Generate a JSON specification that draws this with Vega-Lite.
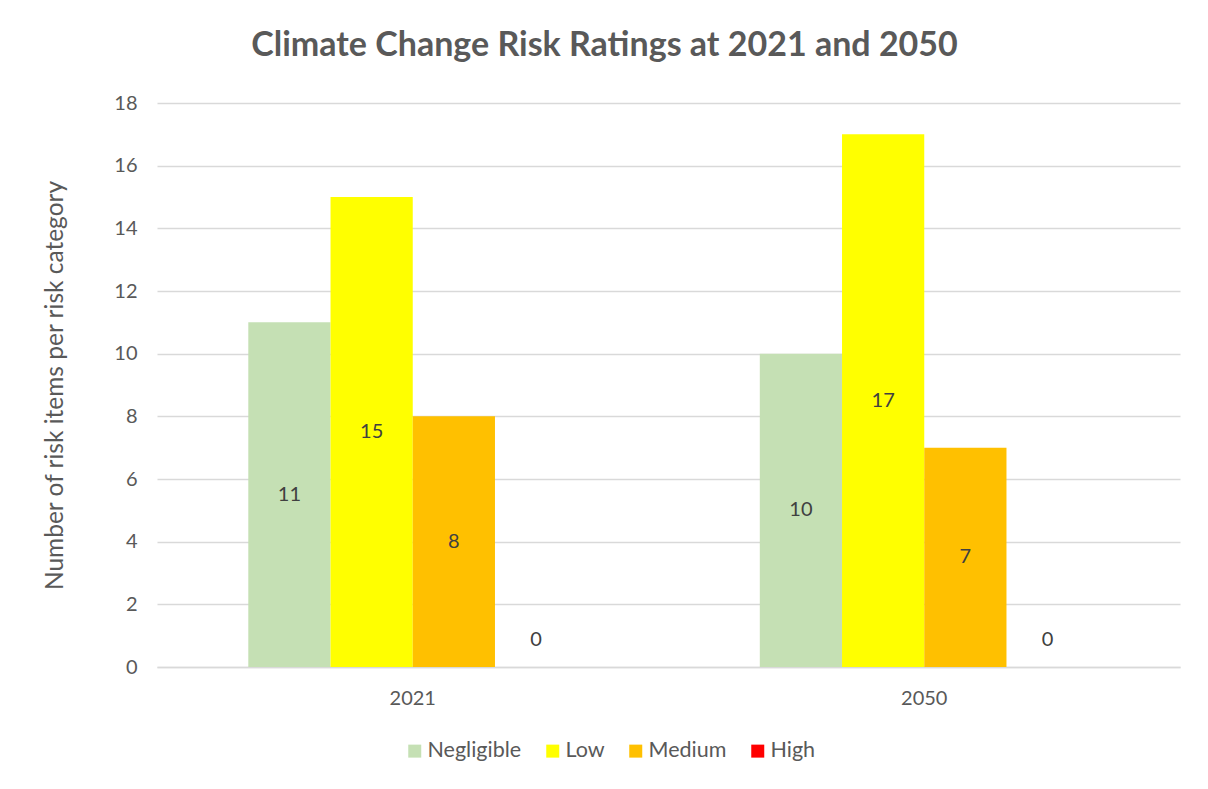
{
  "$schema": "https://vega.github.io/schema/vega-lite/v6.json",
  "width": 1023,
  "height": 564,
  "autosize": {"type": "none"},
  "padding": {"left": 157, "top": 103, "right": 28, "bottom": 122},
  "background": "white",
  "config": {
    "font": "Lato",
    "view": {"stroke": null},
    "axis": {"labelFont": "Lato", "titleFont": "Lato", "labelColor": "#595959", "titleColor": "#595959"}
  },
  "title": {
    "text": "Climate Change Risk Ratings at 2021 and 2050",
    "font": "Lato",
    "fontSize": 34,
    "fontWeight": "bold",
    "color": "#595959",
    "anchor": "middle",
    "dx": -64,
    "baseline": "alphabetic",
    "offset": 3
  },
  "data": {
    "values": [
      {"year": "2021", "risk": "Negligible", "count": 11},
      {"year": "2021", "risk": "Low", "count": 15},
      {"year": "2021", "risk": "Medium", "count": 8},
      {"year": "2021", "risk": "High", "count": 0},
      {"year": "2050", "risk": "Negligible", "count": 10},
      {"year": "2050", "risk": "Low", "count": 17},
      {"year": "2050", "risk": "Medium", "count": 7},
      {"year": "2050", "risk": "High", "count": 0}
    ]
  },
  "encoding": {
    "x": {
      "field": "year",
      "type": "nominal",
      "sort": ["2021", "2050"],
      "scale": {"paddingInner": 0.357, "paddingOuter": 0.1785},
      "axis": {
        "title": null,
        "labelAngle": 0,
        "labelFontSize": 20,
        "labelPadding": 21,
        "ticks": false,
        "domainColor": "#d9d9d9",
        "domainWidth": 1.5
      }
    },
    "xOffset": {
      "field": "risk",
      "type": "nominal",
      "sort": ["Negligible", "Low", "Medium", "High"],
      "scale": {"paddingInner": 0, "paddingOuter": 0}
    }
  },
  "layer": [
    {
      "mark": {"type": "bar"},
      "encoding": {
        "y": {
          "field": "count",
          "type": "quantitative",
          "scale": {"domain": [0, 18], "nice": false},
          "axis": {
            "values": [0, 2, 4, 6, 8, 10, 12, 14, 16, 18],
            "title": "Number of risk items per risk category",
            "titleFontSize": 24.5,
            "titleFontWeight": "normal",
            "titlePadding": 46,
            "labelFontSize": 20,
            "labelPadding": 20,
            "ticks": false,
            "domain": false,
            "gridColor": "#d9d9d9",
            "gridWidth": 1.3
          }
        },
        "color": {
          "field": "risk",
          "type": "nominal",
          "sort": ["Negligible", "Low", "Medium", "High"],
          "scale": {
            "domain": ["Negligible", "Low", "Medium", "High"],
            "range": ["#C5E0B4", "#FFFF00", "#FFC000", "#FF0000"]
          },
          "legend": {
            "title": null,
            "orient": "none",
            "direction": "horizontal",
            "legendX": 247,
            "legendY": 637,
            "symbolType": "square",
            "symbolSize": 169,
            "symbolStrokeWidth": 0,
            "labelFontSize": 21.5,
            "labelColor": "#595959",
            "labelFont": "Lato",
            "labelOffset": 2,
            "columnPadding": 20
          }
        }
      }
    },
    {
      "transform": [{"calculate": "datum.count == 0 ? 0.86 : datum.count / 2", "as": "mid"}],
      "mark": {"type": "text", "fontSize": 20, "color": "#404040", "font": "Lato"},
      "encoding": {
        "y": {"field": "mid", "type": "quantitative"},
        "text": {"field": "count", "type": "quantitative"}
      }
    }
  ]
}
